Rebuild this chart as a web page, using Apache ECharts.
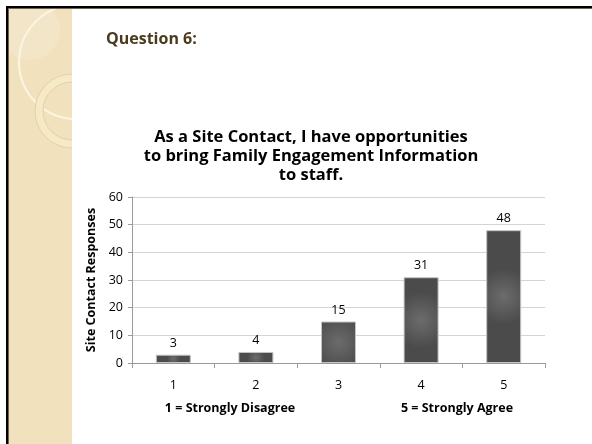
<!DOCTYPE html>
<html><head><meta charset="utf-8">
<script src="https://cdn.jsdelivr.net/npm/echarts@6/dist/echarts.min.js"></script>
<style>html,body{margin:0;padding:0;background:#fff}#c{width:592px;height:444px}</style>
</head><body><div id="c"></div>
<script>
const categories = ['1', '2', '3', '4', '5'];
const responses = [3, 4, 15, 31, 48];
const yTicks = { min: 0, max: 60, interval: 10 };
const chartTitle = 'As a Site Contact, I have opportunities\nto bring Family Engagement Information\nto staff.';
const slideHeading = 'Question 6:';
const yName = 'Site Contact Responses';
const scaleNotes = ['1 = Strongly Disagree', '5 = Strongly Agree'];

const FONT = '"Open Sans", Lato, sans-serif';
const chart = echarts.init(document.getElementById('c'), null, { renderer: 'canvas' });
chart.setOption({
  backgroundColor: '#ffffff',
  animation: false,
  title: {
    text: chartTitle, left: 306, top: 123, textAlign: 'center',
    textStyle: { fontFamily: FONT, fontWeight: 'bold', fontSize: 16.5, color: '#000', lineHeight: 19 }
  },
  grid: { left: 132, right: 47, top: 197, bottom: 81 },
  xAxis: {
    type: 'category', data: categories,
    axisLine: { lineStyle: { color: '#9a9a9a' } },
    axisTick: { show: true, length: 5, lineStyle: { color: '#9a9a9a' } },
    axisLabel: { margin: 16, fontFamily: FONT, fontSize: 12.5, color: '#000' }
  },
  yAxis: {
    type: 'value', min: yTicks.min, max: yTicks.max, interval: yTicks.interval,
    name: yName, nameLocation: 'middle', nameGap: 33, nameRotate: 90,
    nameTextStyle: { fontFamily: FONT, fontWeight: 'bold', fontSize: 12.5, color: '#000' },
    axisLine: { show: true, lineStyle: { color: '#9a9a9a' } },
    axisTick: { show: true, length: 4, lineStyle: { color: '#9a9a9a' } },
    axisLabel: { margin: 9, fontFamily: FONT, fontSize: 12.5, color: '#000' },
    splitLine: { lineStyle: { color: '#d4d4d4' } }
  },
  series: [{
    type: 'bar', data: responses, barWidth: 35,
    itemStyle: {
      color: { type: 'radial', x: 0.5, y: 0.5, r: 0.8,
        colorStops: [{ offset: 0, color: '#6c6c6c' }, { offset: 1, color: '#4b4b4b' }] },
      borderColor: '#c4c4c4', borderWidth: 1
    },
    label: { show: true, position: 'top', distance: 5, fontFamily: FONT, fontSize: 12.5, color: '#000' }
  }],
  graphic: [
    { type: 'rect', z: -20, shape: { x: 9, y: 9, width: 63, height: 435 }, style: { fill: '#f1e2bd' } },
    { type: 'circle', z: -19, shape: { cx: 30, cy: 30, r: 30 }, style: { fill: '#f3e6c8', stroke: null } },
    { type: 'circle', z: -18, shape: { cx: 76, cy: 62, r: 57 }, style: { fill: null, stroke: '#fbf5e4', lineWidth: 2 } },
    { type: 'circle', z: -18, shape: { cx: 72, cy: 111, r: 33 }, style: { fill: null, stroke: '#f6e9c6', lineWidth: 8 } },
    { type: 'circle', z: -17, shape: { cx: 72, cy: 111, r: 37 }, style: { fill: null, stroke: '#dccca3', lineWidth: 0.8 } },
    { type: 'circle', z: -17, shape: { cx: 72, cy: 111, r: 29 }, style: { fill: null, stroke: '#dccca3', lineWidth: 0.8 } },
    { type: 'rect', z: -10, shape: { x: 72, y: 9, width: 520, height: 435 }, style: { fill: '#ffffff' } },
    { type: 'rect', z: -10, shape: { x: 0, y: 0, width: 592, height: 6 }, style: { fill: '#ffffff' } },
    { type: 'rect', z: -10, shape: { x: 0, y: 0, width: 6, height: 444 }, style: { fill: '#ffffff' } },
    { type: 'rect', z: 5, shape: { x: 6, y: 6, width: 586, height: 2 }, style: { fill: '#000000' } },
    { type: 'rect', z: 5, shape: { x: 6, y: 8, width: 586, height: 1 }, style: { fill: '#6e6450' } },
    { type: 'rect', z: 5, shape: { x: 6, y: 6, width: 2, height: 438 }, style: { fill: '#000000' } },
    { type: 'rect', z: 5, shape: { x: 8, y: 8, width: 1, height: 436 }, style: { fill: '#6e6450' } },
    { type: 'text', z: 5, left: 106, top: 31, style: { text: slideHeading, fontFamily: FONT, fontWeight: 'bold', fontSize: 16, fill: '#4a3b1c' } },
    { type: 'text', z: 5, x: 230, y: 408, style: { text: scaleNotes[0], textAlign: 'center', textVerticalAlign: 'middle', fontFamily: FONT, fontWeight: 'bold', fontSize: 12.5, fill: '#000' } },
    { type: 'text', z: 5, x: 457, y: 408, style: { text: scaleNotes[1], textAlign: 'center', textVerticalAlign: 'middle', fontFamily: FONT, fontWeight: 'bold', fontSize: 12.5, fill: '#000' } }
  ]
});
</script></body></html>
